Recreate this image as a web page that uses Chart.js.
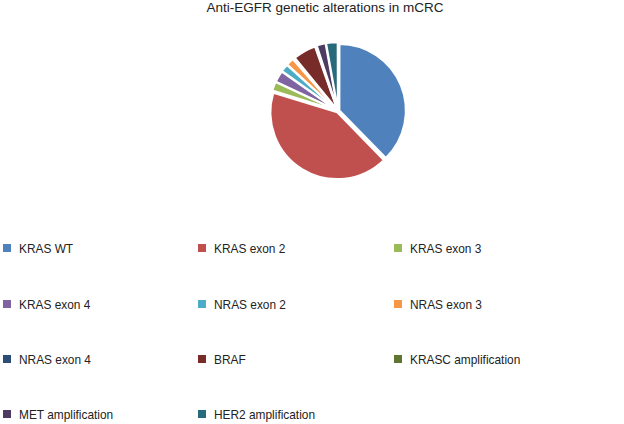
<!DOCTYPE html>
<html>
<head>
<meta charset="utf-8">
<script src="https://cdn.jsdelivr.net/npm/chart.js@4/dist/chart.umd.min.js"></script>
<style>
  body { margin: 0; background: #fff; font-family: "Liberation Sans", Arial, sans-serif; }
  #wrap { position: relative; width: 624px; height: 424px; overflow: hidden; }
  #titulo { position: absolute; left: 0; width: 650px; top: 0px; text-align: center; font-size: 13.5px; color: #222; }
  #pizza { position: absolute; left: 238px; top: 11px; width: 200px; height: 200px; }
  .item { position: absolute; height: 16px; font-size: 13.5px; color: #222; white-space: nowrap; }
  .item .caixa { position: absolute; left: 0; top: 4px; width: 8px; height: 8px; }
  .item .txt { position: absolute; left: 16px; top: 1px; line-height: 16px; transform: scaleX(0.88); transform-origin: left center; }
</style>
</head>
<body>
<div id="wrap">
  <div id="titulo">Anti-EGFR genetic alterations in mCRC</div>
  <div id="pizza"><canvas id="graficoAlteracoes"></canvas></div>
  <div id="legenda"></div>
</div>
<script>
const categorias = ['KRAS WT', 'KRAS exon 2', 'KRAS exon 3', 'KRAS exon 4', 'NRAS exon 2', 'NRAS exon 3',
  'NRAS exon 4', 'BRAF', 'KRASC amplification', 'MET amplification', 'HER2 amplification'];
const valores = [37.2, 41.5, 2.2, 2.8, 1.9, 1.9, 0.4, 5.5, 0.3, 2.2, 2.8];
const cores = ['#4F81BD', '#C0504D', '#9BBB59', '#8064A2', '#4BACC6', '#F79646',
  '#2C4D75', '#772C2A', '#5F7530', '#4D3B62', '#276A7C'];

const ctx = document.getElementById('graficoAlteracoes').getContext('2d');

new Chart(ctx, {
  type: 'pie',
  data: {
    labels: categorias,
    datasets: [{
      data: valores,
      backgroundColor: cores,
      borderColor: '#fff',
      borderWidth: 2,
      offset: 6,
      radius: 66
    }]
  },
  options: {
    responsive: true,
    maintainAspectRatio: false,
    animation: false,
    layout: { padding: 0 },
    plugins: {
      legend: { display: false },
      tooltip: { enabled: false }
    }
  }
});

// legenda em 3 colunas, como no original
const colunasX = [3, 198, 394];
const linhasY = [240, 296, 351, 406];
const legenda = document.getElementById('legenda');
categorias.forEach((nome, i) => {
  const item = document.createElement('div');
  item.className = 'item';
  item.style.left = colunasX[i % 3] + 'px';
  item.style.top = linhasY[Math.floor(i / 3)] + 'px';
  item.innerHTML = `<span class="caixa" style="background:${cores[i]}"></span><span class="txt">${nome}</span>`;
  legenda.appendChild(item);
});
</script>
</body>
</html>
